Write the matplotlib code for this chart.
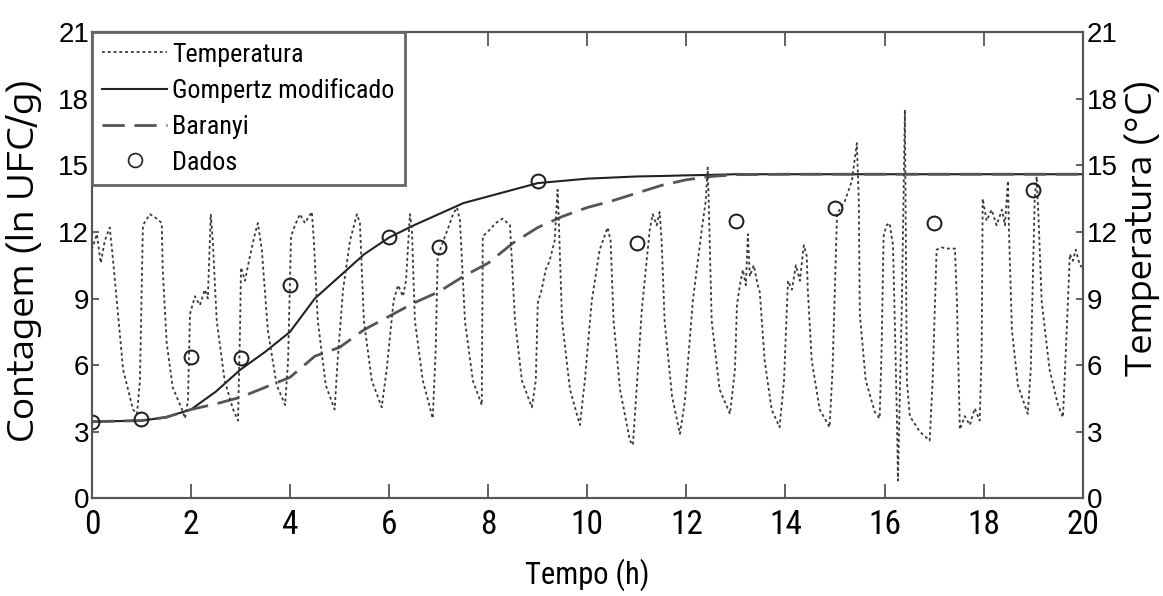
import numpy as np
import matplotlib
matplotlib.use("Agg")
import matplotlib.pyplot as plt

# condensed face for horizontal text, a wide one for the rotated labels
cond = ['Roboto Condensed', 'Liberation Sans', 'DejaVu Sans']
plain = ['Liberation Sans', 'DejaVu Sans']
wide = ['Encode Sans Expanded', 'DejaVu Sans']
plt.rcParams['font.family'] = plain

# Dados: measured counts (ln UFC/g)
data_t = [0, 1, 2, 3, 4, 6, 7, 9, 11, 13, 15, 17, 19]
data_y = [3.45, 3.55, 6.35, 6.3, 9.6, 11.75, 11.3, 14.3, 11.5, 12.5, 13.1, 12.4, 13.9]

# model curves
model_t = [0, 1, 1.5, 2, 2.5, 3, 3.5, 4, 4.5, 5, 5.5, 6, 6.5, 7, 7.5, 8, 8.5, 9,
           9.5, 10, 10.5, 11, 11.5, 12, 12.5, 13, 14, 16, 18, 20]
gompertz = [3.45, 3.5, 3.65, 4.0, 4.8, 5.8, 6.6, 7.5, 9.0, 10.0, 11.0, 11.75, 12.3,
            12.8, 13.3, 13.6, 13.9, 14.2, 14.3, 14.4, 14.45, 14.5, 14.52, 14.55,
            14.57, 14.6, 14.6, 14.6, 14.6, 14.6]
baranyi = [3.45, 3.5, 3.65, 4.0, 4.25, 4.55, 5.0, 5.45, 6.4, 6.8, 7.6, 8.2, 8.8,
           9.3, 10.0, 10.6, 11.5, 12.2, 12.7, 13.1, 13.4, 13.75, 14.1, 14.35,
           14.5, 14.58, 14.6, 14.6, 14.6, 14.6]

# temperature record (°C)
temp_t = [0.00, 0.10, 0.18, 0.26, 0.36, 0.42, 0.63, 0.83, 0.91, 0.97, 1.03, 1.17, 1.31,
          1.41, 1.43, 1.51, 1.63, 1.82, 1.88, 1.94, 1.98, 2.08, 2.18, 2.28, 2.34, 2.40,
          2.44, 2.52, 2.68, 2.85, 2.95, 2.99, 3.01, 3.09, 3.19, 3.29, 3.35, 3.43, 3.55,
          3.73, 3.90, 3.96, 4.02, 4.10, 4.20, 4.30, 4.44, 4.48, 4.56, 4.72, 4.90, 4.96,
          5.07, 5.21, 5.35, 5.41, 5.49, 5.65, 5.85, 5.95, 6.09, 6.18, 6.28, 6.34, 6.42,
          6.46, 6.52, 6.68, 6.88, 6.94, 6.98, 7.06, 7.18, 7.29, 7.37, 7.43, 7.53, 7.69,
          7.87, 7.89, 8.03, 8.15, 8.29, 8.44, 8.54, 8.68, 8.88, 8.96, 9.00, 9.08, 9.16,
          9.24, 9.34, 9.40, 9.42, 9.49, 9.65, 9.85, 9.95, 10.09, 10.25, 10.41, 10.47,
          10.53, 10.66, 10.86, 10.92, 10.98, 11.10, 11.26, 11.32, 11.40, 11.46, 11.50,
          11.56, 11.71, 11.87, 11.97, 12.13, 12.31, 12.39, 12.43, 12.45, 12.51, 12.67,
          12.88, 12.98, 13.02, 13.08, 13.14, 13.20, 13.24, 13.28, 13.36, 13.44, 13.48,
          13.58, 13.72, 13.88, 13.97, 14.05, 14.13, 14.21, 14.29, 14.37, 14.43, 14.45,
          14.53, 14.69, 14.89, 14.95, 15.04, 15.20, 15.34, 15.44, 15.48, 15.50, 15.62,
          15.80, 15.90, 15.94, 15.98, 16.04, 16.10, 16.17, 16.21, 16.25, 16.27, 16.35,
          16.41, 16.43, 16.45, 16.51, 16.71, 16.91, 16.97, 17.05, 17.15, 17.28, 17.42,
          17.46, 17.52, 17.62, 17.72, 17.82, 17.92, 17.96, 17.98, 18.06, 18.16, 18.26,
          18.37, 18.43, 18.49, 18.51, 18.57, 18.69, 18.89, 18.95, 19.03, 19.07, 19.11,
          19.17, 19.33, 19.50, 19.60, 19.66, 19.74, 19.80, 19.86, 19.94, 20.00]
temp_c = [11.2, 11.9, 10.6, 11.6, 12.2, 10.9, 5.8, 4.0, 3.8, 5.3, 12.3, 12.8, 12.6,
          12.4, 10.3, 7.0, 5.0, 4.0, 3.6, 4.4, 8.3, 9.1, 8.7, 9.4, 9.0, 12.8,
          11.6, 8.0, 5.3, 4.0, 3.5, 7.6, 10.4, 9.8, 10.9, 11.9, 12.4, 11.2, 7.6,
          5.1, 4.2, 6.2, 11.8, 12.3, 12.8, 12.4, 12.9, 11.6, 8.0, 5.1, 4.0, 6.2,
          9.4, 11.6, 12.8, 12.4, 8.0, 5.3, 4.1, 5.8, 8.9, 9.6, 9.1, 9.8, 12.8,
          12.1, 8.0, 5.3, 3.6, 6.7, 10.9, 11.4, 12.1, 12.8, 13.1, 12.5, 8.0, 5.3,
          4.2, 11.8, 12.1, 12.4, 12.6, 12.3, 8.0, 5.3, 4.1, 5.3, 8.8, 9.4, 10.3,
          10.7, 11.6, 13.9, 12.8, 8.0, 4.9, 3.3, 5.3, 8.9, 11.2, 12.2, 11.6,
          8.0, 4.9, 2.6, 2.4, 4.4, 8.5, 12.1, 12.8, 12.3, 12.9, 11.6,
          8.0, 4.6, 2.9, 4.4, 8.9, 12.1, 13.4, 14.9, 13.4, 8.0, 4.9,
          3.8, 5.8, 8.7, 9.6, 10.3, 9.6, 11.9, 10.0, 10.5, 9.6, 9.3,
          6.2, 4.0, 3.2, 5.3, 9.8, 9.4, 10.5, 9.8, 11.4, 10.9, 9.4,
          6.2, 4.0, 3.2, 5.8, 12.8, 13.4, 14.3, 16.0, 13.4, 8.3, 5.3,
          3.9, 3.6, 6.7, 11.8, 12.3, 12.4, 11.4, 7.6, 3.5, 0.8, 8.9,
          17.5, 11.2, 5.3, 3.7, 3.0, 2.6, 5.3, 11.2, 11.3, 11.25, 11.25,
          8.9, 3.1, 3.7, 3.3, 4.05, 3.5, 6.7, 13.5, 12.5, 13.0, 12.3,
          13.0, 12.3, 14.3, 12.1, 7.6, 5.1, 3.8, 5.8, 13.5, 14.5, 12.5,
          8.9, 5.8, 4.2, 3.65, 6.7, 11.0, 10.7, 11.2, 10.5, 10.4]

yticks = np.arange(0, 22, 3)
xticks = np.arange(0, 21, 2)
spine_col = '#555555'

fig = plt.figure(figsize=(11.63, 5.96), dpi=100)
ax = fig.add_axes([0.079, 0.164, 0.852, 0.782])
ax2 = ax.twinx()

# temperature on the right axis
l_temp, = ax2.plot(temp_t, temp_c, color='#3a3a3a', lw=1.3, linestyle=(0, (1.6, 1.6)))

l_gom, = ax.plot(model_t, gompertz, color='#222222', lw=1.5)
l_bar, = ax.plot(model_t, baranyi, color='#555555', lw=2.0, linestyle=(0, (8, 3.5)))
l_dat, = ax.plot(data_t, data_y, 'o', mfc='none', mec='#222222', ms=10, mew=1.2)
# put the data marks above the temperature trace too
ax2.plot(data_t, data_y, 'o', mfc='none', mec='#222222', ms=10, mew=1.2)

for a in (ax, ax2):
    a.set_xlim(0, 20)
    a.set_ylim(0, 21)
    a.set_yticks(yticks)
    for s in a.spines.values():
        s.set_color(spine_col)
        s.set_linewidth(1.5)

ax.set_xticks(xticks)
ax.tick_params(axis='x', direction='in', length=10, width=1.3, color=spine_col,
               pad=8, top=True)
ax.tick_params(axis='y', direction='in', length=5, width=1.3, color=spine_col,
               labelsize=20, pad=2)
ax2.tick_params(axis='y', direction='in', length=5, width=1.3, color=spine_col,
                labelsize=20, pad=3)
for lab in ax.get_xticklabels():
    lab.set_family(cond)
    lab.set_fontsize(24)

ax.set_xlabel('Tempo (h)', fontsize=22, family=cond, labelpad=12)
ax.set_ylabel('Contagem (ln UFC/g)', fontsize=25, family=wide)
ax2.set_ylabel('Temperatura (°C)', fontsize=24.5, family=wide)
ax.yaxis.set_label_coords(-0.05, 0.51)
ax2.yaxis.set_label_coords(1.042, 0.58)

leg = ax2.legend([l_temp, l_gom, l_bar, l_dat],
                 ['Temperatura', 'Gompertz modificado', 'Baranyi', 'Dados'],
                 loc='upper left', bbox_to_anchor=(0, 1), borderaxespad=0,
                 prop={'family': cond, 'size': 18.7}, fancybox=False, framealpha=1,
                 handlelength=2.5, handletextpad=0.2, labelspacing=0.45,
                 borderpad=0.4)
leg.get_frame().set_edgecolor('#666666')
leg.get_frame().set_linewidth(2)

fig.savefig('out.png', dpi=100)
